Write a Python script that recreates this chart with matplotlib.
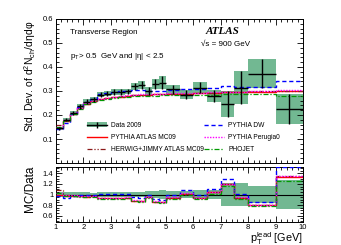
import matplotlib
matplotlib.use("Agg")
import matplotlib.pyplot as plt
import numpy as np
from matplotlib.patches import Patch, Rectangle
from matplotlib.lines import Line2D
from matplotlib.ticker import MultipleLocator

plt.rcParams['font.family'] = ['Liberation Sans', 'DejaVu Sans']
plt.rcParams['mathtext.fontset'] = 'custom'
plt.rcParams['mathtext.rm'] = 'Liberation Sans'
plt.rcParams['mathtext.it'] = 'Liberation Sans:italic'
plt.rcParams['mathtext.default'] = 'regular'

edges = [1, 1.25, 1.5, 1.75, 2, 2.25, 2.5, 2.75, 3, 3.25, 3.5, 3.75, 4, 4.25,
         4.5, 4.75, 5, 5.5, 6, 6.5, 7, 7.5, 8, 9, 10]
data = [0.145, 0.180, 0.210, 0.236, 0.256, 0.266, 0.285, 0.289, 0.295, 0.297,
        0.298, 0.320, 0.326, 0.300, 0.330, 0.335, 0.307, 0.285, 0.314, 0.280,
        0.247, 0.314, 0.372, 0.225]
data_err = [0.006, 0.007, 0.008, 0.009, 0.010, 0.010, 0.011, 0.011, 0.012, 0.012,
            0.012, 0.014, 0.016, 0.018, 0.022, 0.028, 0.020, 0.020, 0.024, 0.025,
            0.055, 0.068, 0.060, 0.062]
mc09 = [0.145, 0.176, 0.204, 0.229, 0.246, 0.257, 0.265, 0.270, 0.274, 0.277,
        0.280, 0.282, 0.284, 0.285, 0.286, 0.287, 0.288, 0.289, 0.291, 0.292,
        0.294, 0.295, 0.297, 0.300]
herwig = [0.158, 0.178, 0.205, 0.229, 0.247, 0.258, 0.266, 0.271, 0.275, 0.278,
          0.281, 0.283, 0.284, 0.285, 0.286, 0.287, 0.288, 0.289, 0.291, 0.293,
          0.296, 0.296, 0.298, 0.302]
dw = [0.140, 0.168, 0.206, 0.233, 0.254, 0.266, 0.287, 0.292, 0.296, 0.299,
      0.301, 0.305, 0.305, 0.298, 0.300, 0.300, 0.306, 0.309, 0.310, 0.311,
      0.320, 0.315, 0.316, 0.340]
perugia0 = [0.150, 0.180, 0.207, 0.231, 0.248, 0.259, 0.267, 0.272, 0.276, 0.279,
            0.282, 0.284, 0.286, 0.287, 0.288, 0.289, 0.290, 0.291, 0.293, 0.294,
            0.296, 0.297, 0.299, 0.303]
phojet = [0.148, 0.176, 0.203, 0.227, 0.244, 0.255, 0.262, 0.267, 0.271, 0.274,
          0.276, 0.278, 0.279, 0.280, 0.281, 0.282, 0.283, 0.284, 0.285, 0.285,
          0.287, 0.287, 0.288, 0.281]

green = '#72b892'
edges_a = np.array(edges)
data_a = np.array(data)
err_a = np.array(data_err)
centers = 0.5 * (edges_a[:-1] + edges_a[1:])

W, H = 341, 245
fig = plt.figure(figsize=(W / 100, H / 100), dpi=100)
ax = fig.add_axes([56 / W, 1 - 163 / H, 247 / W, 144 / H])
axr = fig.add_axes([56 / W, 1 - 222 / H, 247 / W, 55 / H])

models = [
    (mc09, dict(color='#ff0000', lw=1.0, ls='-'), 'PYTHIA ATLAS MC09'),
    (herwig, dict(color='#8b1a1a', lw=0.9, ls=(0, (4, 1.5, 1, 1.5, 1, 1.5))), 'HERWIG+JIMMY ATLAS MC09'),
    (dw, dict(color='#0000ff', lw=1.0, ls=(0, (3, 2))), 'PYTHIA DW'),
    (perugia0, dict(color='#ff00ff', lw=1.0, ls=(0, (1, 1))), 'PYTHIA Perugia0'),
    (phojet, dict(color='#009a00', lw=0.9, ls=(0, (4, 1.5, 1, 1.5))), 'PHOJET'),
]

for i in range(len(data)):
    ax.add_patch(Rectangle((edges_a[i], data_a[i] - err_a[i]), edges_a[i + 1] - edges_a[i],
                           2 * err_a[i], facecolor=green, edgecolor='none', zorder=1))
    rel = err_a[i] / data_a[i]
    axr.add_patch(Rectangle((edges_a[i], 1 - rel), edges_a[i + 1] - edges_a[i],
                            2 * rel, facecolor=green, edgecolor='none', zorder=1))

handles = {}
for vals, st, lab in models:
    v = np.array(vals)
    ax.stairs(v, edges_a, baseline=None, zorder=3, **st)
    axr.stairs(v / data_a, edges_a, baseline=None, zorder=3, **st)
    handles[lab] = Line2D([], [], **st)

ax.hlines(data_a, edges_a[:-1], edges_a[1:], color='black', lw=1.0, zorder=4)
ax.vlines(centers, data_a - err_a, data_a + err_a, color='black', lw=1.0, zorder=4)
axr.axhline(1.0, color='black', lw=0.8, zorder=2)

for a in (ax, axr):
    a.set_xlim(1, 10)
    a.tick_params(which='both', direction='in', top=True, right=True, labelsize=5.5,
                  width=0.6, pad=2)
    a.tick_params(which='major', length=4)
    a.tick_params(which='minor', length=2)
    a.xaxis.set_major_locator(MultipleLocator(1))
    a.xaxis.set_minor_locator(MultipleLocator(0.2))
    for s in a.spines.values():
        s.set_linewidth(0.7)

ax.set_ylim(0, 0.6)
ax.yaxis.set_minor_locator(MultipleLocator(0.02))
ax.set_yticks([0.1, 0.2, 0.3, 0.4, 0.5, 0.6])
ax.set_yticklabels(['0.1', '0.2', '0.3', '0.4', '0.5', '0.6'])
ax.tick_params(labelbottom=False)

axr.set_ylim(0.48, 1.52)
axr.set_yticks([0.6, 0.8, 1.0, 1.2, 1.4])
axr.set_yticklabels(['0.6', '0.8', '1', '1.2', '1.4'])
axr.yaxis.set_minor_locator(MultipleLocator(0.05))
axr.set_xticks(range(1, 11))
axr.set_xticklabels([str(i) for i in range(1, 11)])
axr.tick_params(axis='x', pad=1.5)

ax.text(70 / W, 1 - 32 / H, 'Transverse Region', transform=fig.transFigure,
        fontsize=5.8, va='center', ha='left')
ax.text(70 / W, 1 - 57 / H, r'p$_{T}$> 0.5  GeV and |η| < 2.5', transform=fig.transFigure,
        fontsize=5.8, va='center', ha='left')
ax.text(223 / W, 1 - 31 / H, 'ATLAS', transform=fig.transFigure, fontsize=8,
        fontweight='bold', fontstyle='italic', family='Liberation Serif', va='center', ha='center')
ax.text(201 / W, 1 - 44 / H, '√s = 900 GeV', transform=fig.transFigure,
        fontsize=5.8, va='center', ha='left')

fig.text(30 / W, 1 - 21 / H, r'Std. Dev. of d$^{2}$N$_{ch}$/dηdφ', rotation=90,
         va='top', ha='center', fontsize=7.5)
fig.text(30 / W, 1 - 166 / H, 'MC/Data', rotation=90, va='top', ha='center', fontsize=8.5)
fig.text(303 / W, 1 - 241.5 / H, r'p$_{T}^{lead}$ [GeV]', ha='right', va='baseline', fontsize=7.8)

data_handle = (Patch(facecolor=green, edgecolor='none'),
               Line2D([], [], color='black', lw=1.0, marker='|', markersize=5))
leg1 = ax.legend([data_handle, handles['PYTHIA ATLAS MC09'], handles['HERWIG+JIMMY ATLAS MC09']],
                 ['Data 2009', 'PYTHIA ATLAS MC09', 'HERWIG+JIMMY ATLAS MC09'],
                 loc='upper left', bbox_to_anchor=(0.125, 0.285), frameon=False,
                 fontsize=4.8, handlelength=3.0, handletextpad=0.6, labelspacing=0.75,
                 borderpad=0, borderaxespad=0)
ax.add_artist(leg1)
ax.legend([handles['PYTHIA DW'], handles['PYTHIA Perugia0'], handles['PHOJET']],
          ['PYTHIA DW', 'PYTHIA Perugia0', 'PHOJET'],
          loc='upper left', bbox_to_anchor=(0.6, 0.285), frameon=False,
          fontsize=4.8, handlelength=3.0, handletextpad=0.6, labelspacing=0.75,
          borderpad=0, borderaxespad=0)

fig.savefig('out.png', dpi=100)
